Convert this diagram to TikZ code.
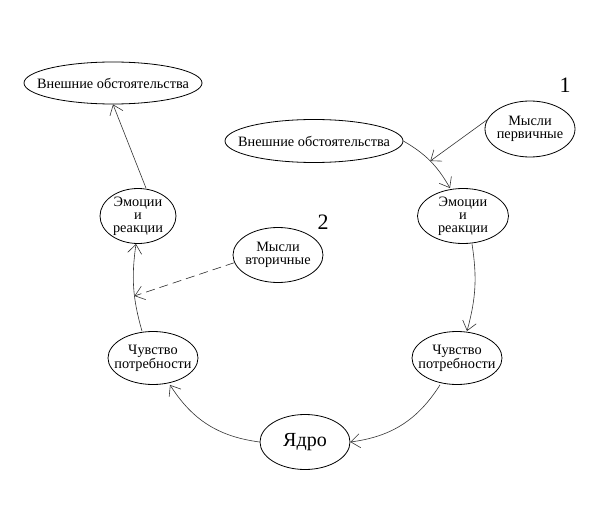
\documentclass[tikz,border=0pt]{standalone}
\usepackage{fontspec}
\setmainfont{Liberation Serif}
\usetikzlibrary{positioning,arrows.meta,shapes.geometric}
\definecolor{inkline}{HTML}{333333}

\begin{document}
\begin{tikzpicture}[x=1pt, y=1pt,
    >={Straight Barb[length=9pt, width=14pt]},
    every node/.style={align=center},
    oval/.style={draw=black, line width=0.8pt, ellipse, inner xsep=-15pt,
                 inner ysep=-3pt, minimum width=90pt, minimum height=55pt,
                 font=\fontsize{14.3}{13}\selectfont},
    wide/.style={oval, minimum width=178pt, minimum height=42pt},
    link/.style={->, draw=inkline, line width=0.6pt},
    num/.style={font=\fontsize{22}{22}\selectfont, inner sep=0pt}]
  \path[use as bounding box] (0,0) rectangle (591,531);
  % left branch
  \node[wide] (extL) at (113,448) {Внешние обстоятельства};
  \node[oval, minimum width=76pt] (emoL) at (138,315) {Эмоции\\и\\реакции};
  \node[oval, minimum height=53pt] (needL) at (153,173) {Чувство\\потребности};
  % right branch
  \node[wide, minimum height=43pt] (extR) at (314,390) {Внешние обстоятельства};
  \node[oval, minimum height=56pt] (firstT) at (530,402) {Мысли\\первичные};
  \node[oval, minimum width=91pt] (emoR) at (463,315) {Эмоции\\и\\реакции};
  \node[oval, minimum height=53pt] (needR) at (457,173) {Чувство\\потребности};
  \node[oval, font=\fontsize{20}{20}\selectfont] (core) at (305,89) {Ядро};
  \node[oval] (secondT) at (278,276) {Мысли\\вторичные};
  \node[num] (one) at (565,446) {1};
  \node[num] (two) at (323,309) {2};
  % cycle
  \draw[link] (core.west) to[bend left=25] ([xshift=17pt]needL.south);
  \draw[link] ([xshift=-11pt]needL.north) to[bend left=12]
    coordinate[pos=0.4] (hitL) ([xshift=-2pt]emoL.south);
  \draw[link] ([xshift=8pt]emoL.north) -- (extL.south);
  \draw[link] (extR.east) to[bend left=15] coordinate[pos=0.5] (hitR)
    ([xshift=-13pt]emoR.north);
  \draw[link] ([xshift=9pt]emoR.south) to[bend left=12] ([xshift=10pt]needR.north);
  \draw[link] ([xshift=-17pt]needR.south) to[bend left=25] (core.east);
  % thoughts
  \draw[link] (firstT.168) -- (hitR);
  \draw[link, dash pattern=on 9pt off 5pt] (secondT.190) -- (hitL);
\end{tikzpicture}
\end{document}
